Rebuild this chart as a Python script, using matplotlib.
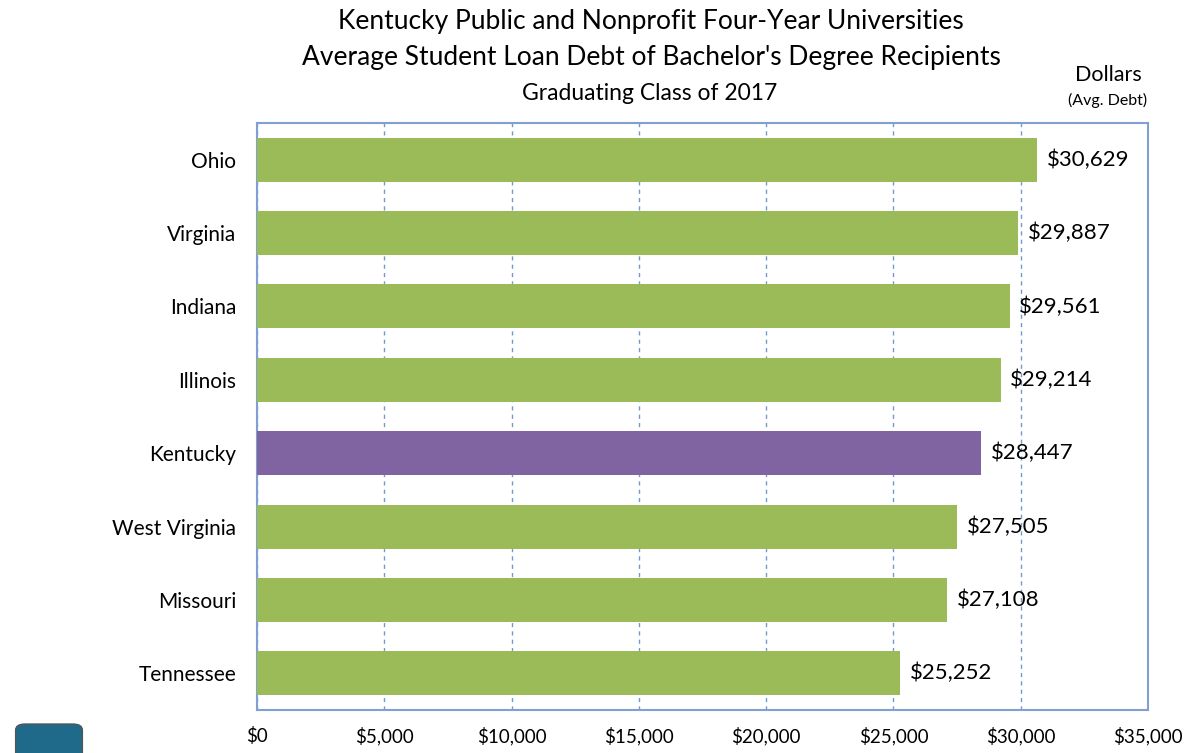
import matplotlib
matplotlib.use("Agg")
import matplotlib.pyplot as plt
from matplotlib.ticker import FuncFormatter, MultipleLocator
from matplotlib.patches import FancyBboxPatch

states = ["Ohio", "Virginia", "Indiana", "Illinois", "Kentucky",
          "West Virginia", "Missouri", "Tennessee"]
debt = [30629, 29887, 29561, 29214, 28447, 27505, 27108, 25252]
highlight = "Kentucky"

green = "#9BBB59"
purple = "#8064A2"

plt.rcParams['font.family'] = ['Lato', 'DejaVu Sans']

fig = plt.figure(figsize=(11.93, 7.53), dpi=100)
ax = fig.add_axes([257/1193, 1-710/753, (1148-257)/1193, (710-123)/753])

ypos = list(range(len(states)))
colors = [purple if s == highlight else green for s in states]
ax.barh(ypos, debt, height=0.6, color=colors, zorder=3)
ax.set_ylim(len(states)-0.5, -0.5)
ax.set_yticks(ypos)
ax.set_yticklabels(states, fontsize=15)
ax.set_xlim(0, 35000)
ax.xaxis.set_major_locator(MultipleLocator(5000))
ax.xaxis.set_major_formatter(FuncFormatter(lambda v, p: f"${int(v):,}"))
ax.tick_params(axis='x', labelsize=13.5, length=0, pad=12)
ax.tick_params(axis='y', length=0, pad=15)
ax.grid(axis='x', color="#4F81BD", linestyle=(0, (3, 3)), linewidth=1.0, alpha=0.8, zorder=0)
for s in ax.spines.values():
    s.set_color("#7FA0D0")
    s.set_linewidth(1.5)

for y, v in zip(ypos, debt):
    ax.annotate(f"${v:,}", xy=(v, y), xytext=(7, 0), textcoords='offset points',
                va='center', ha='left', fontsize=16, zorder=4)

fig.text(651/1193, 1-22/753, "Kentucky Public and Nonprofit Four-Year Universities",
         ha='center', va='center', fontsize=19)
fig.text(651/1193, 1-58/753, "Average Student Loan Debt of Bachelor's Degree Recipients",
         ha='center', va='center', fontsize=19)
fig.text(650/1193, 1-93/753, "Graduating Class of 2017",
         ha='center', va='center', fontsize=16.5)
fig.text(1108/1193, 1-75/753, "Dollars", ha='center', va='center', fontsize=15.5)
fig.text(1108/1193, 1-100/753, "(Avg. Debt)", ha='center', va='center', fontsize=11.5)

# small logo badge at bottom-left (decorative)
badge = FancyBboxPatch((18/1193, -0.01), 62/1193, 35/753,
                       boxstyle="round,pad=0.002,rounding_size=0.008",
                       transform=fig.transFigure, facecolor="#1F6A8A",
                       edgecolor="#555555", linewidth=1.0)
fig.patches.append(badge)

fig.savefig("out.png", dpi=100)
